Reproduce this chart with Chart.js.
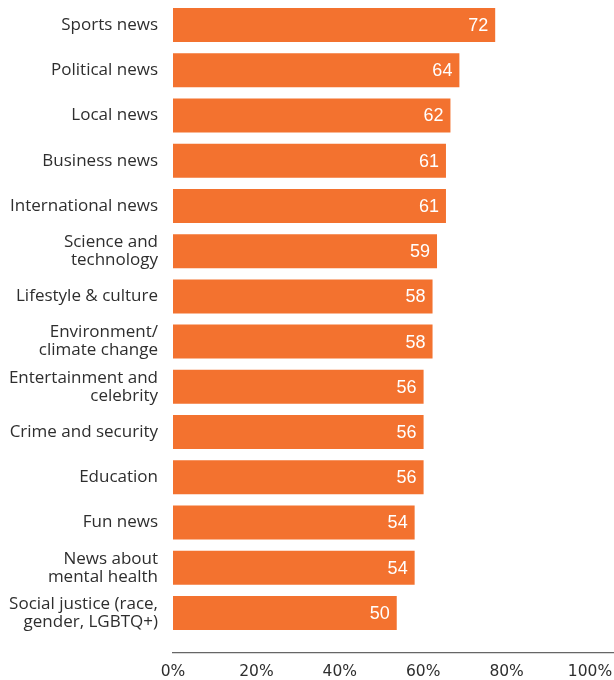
<!DOCTYPE html>
<html>
<head>
<meta charset="utf-8">
<script src="https://cdn.jsdelivr.net/npm/chart.js@4/dist/chart.umd.min.js"></script>
<style>
  html, body { margin: 0; padding: 0; background: #fff; }
  #wrap { width: 614px; height: 680px; }
</style>
</head>
<body>
<div id="wrap"><canvas id="chart" width="614" height="680"></canvas></div>
<script>
// Data
const categories = [
    'Sports news',
    'Political news',
    'Local news',
    'Business news',
    'International news',
    ['Science and', 'technology'],
    'Lifestyle & culture',
    ['Environment/', 'climate change'],
    ['Entertainment and', 'celebrity'],
    'Crime and security',
    'Education',
    'Fun news',
    ['News about', 'mental health'],
    ['Social justice (race,', 'gender, LGBTQ+)']
];
const shares = [72, 64, 62, 61, 61, 59, 58, 58, 56, 56, 56, 54, 54, 50];
const axisTicks = [0, 20, 40, 60, 80, 100];

const ORANGE = '#F3722F';
const TEXT = '#2e2e2e';

// white value labels at the end of each bar
const valueLabels = {
    id: 'valueLabels',
    afterDatasetsDraw(chart) {
        const ctx = chart.ctx;
        const meta = chart.getDatasetMeta(0);
        ctx.save();
        ctx.font = '18px "Liberation Sans", Arial, sans-serif';
        ctx.fillStyle = '#ffffff';
        ctx.textAlign = 'right';
        ctx.textBaseline = 'middle';
        meta.data.forEach((bar, i) => {
            ctx.fillText(String(shares[i]), bar.x - 7, bar.y + 1);
        });
        ctx.restore();
    }
};

new Chart(document.getElementById('chart'), {
    type: 'bar',
    data: {
        labels: categories,
        datasets: [{
            data: shares,
            backgroundColor: ORANGE,
            borderWidth: 0,
            categoryPercentage: 1,
            barPercentage: 0.752,
            xAxisID: 'xBars'
        }]
    },
    options: {
        indexAxis: 'y',
        responsive: false,
        animation: false,
        layout: { padding: { top: 2.4, right: 0, left: 0, bottom: 0 } },
        plugins: {
            legend: { display: false },
            tooltip: { enabled: false }
        },
        scales: {
            y: {
                grid: { display: false, drawTicks: false },
                border: { display: false },
                afterFit: s => {
                    s.width = 173;
                    s.paddingTop = 0;
                    s.paddingBottom = 0;
                },
                ticks: {
                    padding: 15,
                    color: TEXT,
                    autoSkip: false,
                    font: { family: '"Open Sans", sans-serif', size: 17, lineHeight: 1.06 }
                }
            },
            // scale the bars are drawn on (also acts as the gap above the axis line)
            xBars: {
                type: 'linear',
                position: 'bottom',
                weight: 0,
                min: 0,
                max: 98.55,
                grid: { display: false, drawTicks: false },
                border: { display: false },
                ticks: { display: false },
                afterFit: s => {
                    s.height = 17.4;
                    s.paddingLeft = 0;
                    s.paddingRight = 0;
                }
            },
            // visible percentage axis
            xTicks: {
                type: 'linear',
                position: 'bottom',
                weight: 1,
                min: 0,
                max: 105.75,
                afterBuildTicks: s => { s.ticks = axisTicks.map(v => ({ value: v })); },
                afterFit: s => {
                    s.height = 27;
                    s.paddingLeft = 0;
                    s.paddingRight = 0;
                },
                grid: { drawOnChartArea: false, drawTicks: false, color: 'rgba(0,0,0,0)' },
                border: { display: true, color: '#666666', width: 1.2 },
                ticks: {
                    padding: 10,
                    color: TEXT,
                    maxRotation: 0,
                    font: { family: '"DejaVu Sans", sans-serif', size: 15.5 },
                    callback: v => v + '%'
                }
            }
        }
    },
    plugins: [valueLabels]
});
</script>
</body>
</html>
